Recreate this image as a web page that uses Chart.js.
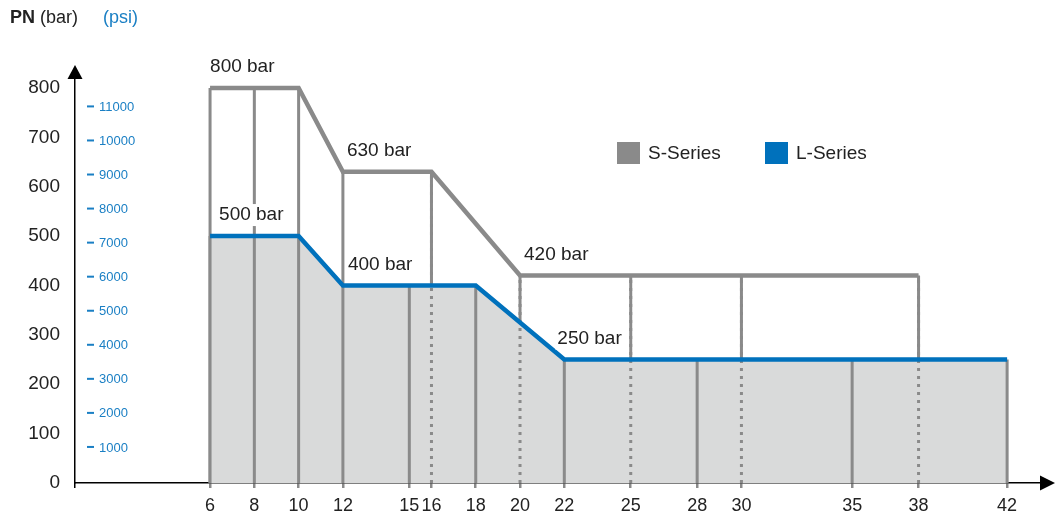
<!DOCTYPE html>
<html>
<head>
<meta charset="utf-8">
<title>PN rating by size</title>
<script src="https://cdn.jsdelivr.net/npm/chart.js@4.4.1/dist/chart.umd.min.js"></script>
<style>
  body { margin: 0; background: #fff; }
  #wrap { position: relative; width: 1064px; height: 518px; }
  #title { position: absolute; left: 10px; top: 7px; font: 18px "Liberation Sans", Arial, sans-serif; color: #222; white-space: nowrap; }
  #title b { font-weight: bold; }
  #title .psi { position: absolute; left: 93px; top: 0; color: #1a7fc4; }
</style>
</head>
<body>
<div id="wrap">
  <div id="title"><b>PN</b> (bar)<span class="psi">(psi)</span></div>
  <canvas id="myChart"></canvas>
</div>
<script>
// nominal sizes on the x axis
const sizeTicks = [6, 8, 10, 12, 15, 16, 18, 20, 22, 25, 28, 30, 35, 38, 42]
const barTicks = [0, 100, 200, 300, 400, 500, 600, 700, 800]
const psiTicks = [1000, 2000, 3000, 4000, 5000, 6000, 7000, 8000, 9000, 10000, 11000]

// S-Series
const sSeriesSizes = [6, 8, 10, 12, 16, 20, 25, 30, 38]
const sSeriesPN = [800, 800, 800, 630, 630, 420, 420, 420, 420]
// L-Series
const lSeriesSizes = [6, 8, 10, 12, 15, 18, 22, 28, 35, 42]
const lSeriesPN = [500, 500, 500, 400, 400, 400, 250, 250, 250, 250]

const BAR_PER_PSI = 0.0689476
const X_MIN = -0.1
const X_MAX = 43.53

const gray = '#8a8a8a'
const blue = '#0071bc'
const fillGray = '#d9dada'
const font = '"Liberation Sans", Arial, sans-serif'

const points = (xs, ys) => xs.map((x, i) => ({x: x, y: ys[i]}))
const verticals = (xs, ys) => xs.flatMap((x, i) => [{x: x, y: 0}, {x: x, y: ys[i]}, {x: x, y: null}])

const sOnlySizes = sSeriesSizes.filter(s => !lSeriesSizes.includes(s))
const sOnlyPN = sSeriesPN.filter((p, i) => !lSeriesSizes.includes(sSeriesSizes[i]))

const lineBase = {
  pointRadius: 0,
  tension: 0,
  fill: false,
  borderCapStyle: 'butt',
  borderJoinStyle: 'miter',
  spanGaps: false
}

const overlay = {
  id: 'overlay',
  afterDatasetsDraw(chart) {
    const {ctx, chartArea, scales: {x, y}} = chart
    ctx.save()

    // value labels, with a white box behind
    ctx.font = '19px ' + font
    ctx.textBaseline = 'middle'
    ctx.textAlign = 'left'
    const labels = [
      {xs: sSeriesSizes, ys: sSeriesPN, i: 0, dx: 0},
      {xs: sSeriesSizes, ys: sSeriesPN, i: 3, dx: 4},
      {xs: sSeriesSizes, ys: sSeriesPN, i: 5, dx: 4},
      {xs: lSeriesSizes, ys: lSeriesPN, i: 0, dx: 9},
      {xs: lSeriesSizes, ys: lSeriesPN, i: 3, dx: 5},
      {xs: lSeriesSizes, ys: lSeriesPN, i: 6, dx: -7}
    ]
    labels.forEach(l => {
      const txt = l.ys[l.i] + ' bar'
      const px = x.getPixelForValue(l.xs[l.i]) + l.dx
      const py = y.getPixelForValue(l.ys[l.i]) - 21
      const w = ctx.measureText(txt).width
      ctx.fillStyle = '#fff'
      ctx.fillRect(px - 2, py - 11, w + 4, 22)
      ctx.fillStyle = '#222'
      ctx.fillText(txt, px, py)
    })

    // psi scale inside the plot
    ctx.font = '13px ' + font
    ctx.fillStyle = '#1a7fc4'
    psiTicks.forEach(p => {
      const py = y.getPixelForValue(p * BAR_PER_PSI) - 2
      ctx.fillRect(87, py - 1, 7, 2)
      ctx.fillText(String(p), 99, py + 1)
    })

    // legend
    ctx.font = '19px ' + font
    ctx.fillStyle = gray
    ctx.fillRect(617, 142, 23, 22)
    ctx.fillStyle = blue
    ctx.fillRect(765, 142, 23, 22)
    ctx.fillStyle = '#222'
    ctx.fillText('S-Series', 648, 154)
    ctx.fillText('L-Series', 796, 154)

    // axis arrows
    ctx.fillStyle = '#000'
    const ax = chartArea.left
    ctx.beginPath()
    ctx.moveTo(ax, chartArea.top - 13)
    ctx.lineTo(ax - 7.5, chartArea.top + 1)
    ctx.lineTo(ax + 7.5, chartArea.top + 1)
    ctx.closePath()
    ctx.fill()
    const ay = chartArea.bottom
    ctx.beginPath()
    ctx.moveTo(chartArea.right + 14, ay)
    ctx.lineTo(chartArea.right - 1, ay - 7.5)
    ctx.lineTo(chartArea.right - 1, ay + 7.5)
    ctx.closePath()
    ctx.fill()
    ctx.restore()
  }
}

new Chart(document.getElementById('myChart'), {
  type: 'line',
  plugins: [overlay],
  data: {
    datasets: [
      {...lineBase, label: 'L-Series', order: 0, data: points(lSeriesSizes, lSeriesPN),
        borderColor: blue, borderWidth: 4.5},
      {...lineBase, label: 'S-Series', order: 1, data: points(sSeriesSizes, sSeriesPN),
        borderColor: gray, borderWidth: 4.5},
      {...lineBase, label: 'S dotted', order: 2, data: verticals(sOnlySizes, sOnlyPN),
        borderColor: gray, borderWidth: 3, borderDash: [3, 5]},
      {...lineBase, label: 'L verticals', order: 3, data: verticals(lSeriesSizes, lSeriesPN),
        borderColor: gray, borderWidth: 3},
      {...lineBase, label: 'L area', order: 4, data: points(lSeriesSizes, lSeriesPN),
        borderWidth: 0, borderColor: 'rgba(0,0,0,0)', backgroundColor: fillGray, fill: 'origin'},
      {...lineBase, label: 'S verticals', order: 5, data: verticals(sSeriesSizes, sSeriesPN),
        borderColor: gray, borderWidth: 3}
    ]
  },
  options: {
    responsive: true,
    maintainAspectRatio: false,
    animation: false,
    events: [],
    layout: {padding: {top: 78, right: 23, left: 0, bottom: 0}},
    plugins: {
      legend: {display: false},
      tooltip: {enabled: false}
    },
    scales: {
      x: {
        type: 'linear',
        min: X_MIN,
        max: X_MAX,
        afterBuildTicks: s => { s.ticks = [X_MIN, ...sizeTicks].map(v => ({value: v})) },
        afterFit: s => { s.height = 35 },
        border: {color: '#000', width: 1.5},
        grid: {
          drawOnChartArea: false,
          drawTicks: true,
          tickLength: 5,
          color: c => c.tick && c.tick.value === X_MIN ? '#000' : gray,
          lineWidth: c => c.tick && c.tick.value === X_MIN ? 1.5 : 2.5
        },
        ticks: {
          autoSkip: false,
          maxRotation: 0,
          padding: 7,
          color: '#222',
          font: {family: font, size: 18},
          callback: v => v === X_MIN ? '' : String(v)
        }
      },
      y: {
        min: 0,
        max: 820,
        afterBuildTicks: s => { s.ticks = barTicks.map(v => ({value: v})) },
        afterFit: s => { s.width = 75 },
        border: {color: '#000', width: 1.5},
        grid: {drawOnChartArea: false, drawTicks: false},
        ticks: {
          padding: 15,
          color: '#222',
          font: {family: font, size: 19}
        }
      }
    }
  }
})
</script>
</body>
</html>
